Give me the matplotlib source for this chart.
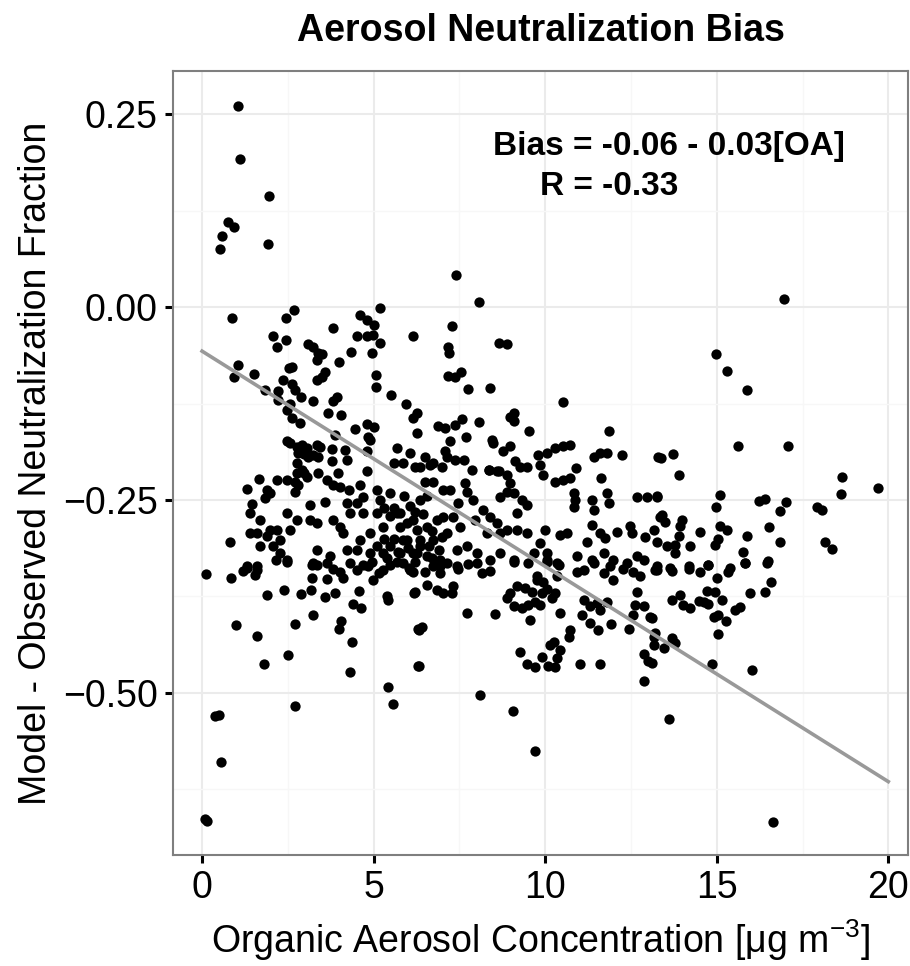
import matplotlib
matplotlib.use("Agg")
import matplotlib.pyplot as plt
import numpy as np

plt.rcParams["font.family"] = ["Liberation Sans", "DejaVu Sans"]
plt.rcParams["mathtext.fontset"] = "custom"
plt.rcParams["mathtext.rm"] = "Liberation Sans"
plt.rcParams["mathtext.it"] = "Liberation Sans:italic"

# organic aerosol concentration [ug m-3] and neutralization bias
oa = [
    1.06, 1.11, 1.96, 0.77, 0.94, 0.59, 0.51, 1.91, 0.86, 2.44, 2.69, 4.60, 4.80, 5.01, 5.18, 3.83,
    2.08, 2.18, 2.45, 3.08, 3.24, 3.39, 3.49, 3.34, 4.51, 4.80, 4.99, 5.19, 4.95, 4.34, 3.99, 6.16,
    1.04, 0.94, 1.50, 1.82, 2.52, 2.61, 2.37, 2.61, 2.71, 2.89, 2.22, 2.22, 2.47, 2.57, 2.61, 2.84,
    3.59, 3.34, 3.49, 3.93, 3.83, 3.24, 3.66, 4.05, 5.06, 5.08, 5.51, 5.94, 6.16, 6.26, 6.26,
    4.46, 4.80, 5.01, 4.85, 4.88, 3.88,
    2.47, 2.57, 2.76, 2.91, 3.05, 3.34, 3.44, 2.81, 2.96, 3.10, 3.24, 3.39, 3.78, 4.17,
    3.78, 4.22, 4.80,
    2.76, 2.91, 2.76, 2.96, 3.05, 2.71, 2.81, 2.71, 3.39, 3.64, 3.83, 4.03, 4.27, 3.97, 4.80,
    1.67, 1.32, 2.18, 2.47, 1.89, 1.98, 1.84,
    4.61, 4.70, 5.09, 5.19, 5.48, 5.68, 5.58, 5.87, 6.06, 6.21,
    1.45, 1.40, 1.69, 1.59, 1.40, 1.98, 1.89, 2.18, 2.27, 2.08, 1.69, 0.80, 2.47, 2.76, 2.57, 3.15,
    3.59, 3.15, 3.34, 3.83, 4.03, 4.12, 4.22, 4.51, 4.32, 4.70, 5.09, 4.90, 5.28, 5.48, 5.68, 5.77,
    6.06, 6.16, 5.87, 5.48, 5.28, 4.90, 4.61, 4.51, 4.22, 3.73, 3.34, 3.24, 3.64, 2.47, 2.27, 1.30,
    1.59, 5.87, 6.26,
    0.11, 0.84, 1.20, 1.30, 1.59, 1.55, 2.16, 2.49, 3.20, 3.34, 3.83, 4.03, 4.12, 3.64, 3.20, 4.31,
    4.51, 4.70, 4.95, 5.28, 5.48, 5.68, 6.02, 6.16, 4.99,
    1.90, 2.39, 2.89, 3.18, 3.57, 3.87, 4.58, 4.41, 4.63, 5.39, 5.43, 6.19, 3.23, 4.04, 4.00, 4.38,
    4.32, 2.72, 2.51, 1.80, 0.98, 1.60, 6.28, 6.28,
    5.42, 5.56, 2.70, 0.38, 0.48, 0.55, 0.09, 0.15,
    7.41, 8.06, 7.28, 16.97,
    7.18, 7.21, 8.64, 8.88, 7.18, 7.38, 7.55, 7.76, 8.38, 10.52,
    6.89, 7.08, 7.38, 7.57, 8.06, 7.69, 8.98, 9.08, 9.08, 9.53, 11.87, 12.24, 13.30,
    7.23, 7.08, 7.13, 7.38, 7.62, 6.99, 6.74, 6.50, 6.65, 6.36,
    8.45, 8.49, 8.78, 8.98, 9.13, 9.27, 9.47, 8.35, 8.64,
    9.80, 10.05, 10.29, 10.53, 10.71, 9.85, 9.95, 10.90, 10.29, 10.53, 10.73,
    11.41, 11.60, 11.80, 11.63,
    7.86, 7.67, 7.72, 6.50, 6.74, 7.03, 7.23, 7.47, 7.91,
    8.35, 8.59, 8.88, 8.98, 8.88, 8.69, 9.08, 9.32, 9.47, 9.18,
    10.83, 10.87, 10.83, 11.36, 11.41, 11.80, 11.85, 12.67, 12.96, 13.26, 13.35,
    5.77, 6.36, 6.55, 5.97, 6.26, 6.55, 6.84, 7.03, 7.32, 7.52, 7.13, 6.74, 6.36, 5.97, 5.77, 6.16,
    6.55, 6.94, 7.43, 7.72, 8.01, 8.30, 8.59, 8.69, 8.20, 7.96, 8.40, 8.88, 9.18, 9.47, 9.85, 10.05,
    9.66, 9.08, 8.69, 8.40, 8.01, 7.43, 6.94,
    10.00, 10.44, 10.63, 11.22, 11.36, 11.60, 11.75, 12.09, 12.48, 12.53, 12.91, 13.16, 10.92, 11.36,
    11.70, 11.99, 12.38, 12.67, 12.87, 10.34, 10.05,
    6.06, 6.50, 6.74, 6.94, 7.13, 7.47, 7.76, 8.15, 8.40, 6.55, 6.84, 7.03, 7.32, 7.28, 6.21, 6.41,
    6.31, 6.31, 7.72, 8.54, 8.10, 9.06, 9.71,
    8.98, 9.18, 9.42, 9.62, 9.77, 9.95, 10.05, 9.90, 10.29, 10.19, 8.88, 9.08, 9.32, 9.51, 9.71, 9.85,
    9.56, 10.42, 9.27, 9.47, 9.71, 9.90, 10.15, 10.25, 10.44, 10.34, 10.09, 10.29,
    9.08, 9.51, 10.05, 10.39, 10.34, 9.77,
    10.92, 11.12, 11.41, 11.70, 11.89, 11.99, 12.28, 12.57, 12.77, 13.21, 11.12, 11.31, 11.51, 11.60,
    11.80, 11.06, 11.31, 11.55, 10.73, 10.68, 11.02, 11.60, 11.92, 12.43, 12.57, 12.67, 12.87, 13.06,
    12.62, 13.16, 12.87, 13.01, 12.87,
    14.99, 15.31, 15.88, 15.61, 17.08, 13.38, 13.74, 13.89, 18.66, 18.62, 19.69,
    13.26, 15.10, 14.98, 16.22, 16.41, 17.03, 16.85, 17.92, 18.07,
    13.40, 13.50, 13.99, 13.94, 14.52, 15.10, 15.30, 15.05, 14.96, 15.88, 16.51, 16.85, 18.16, 18.36,
    13.26, 13.55, 13.79, 13.89, 13.79, 14.21, 15.78, 15.83, 16.48, 15.39, 14.76, 14.18, 13.65, 13.26,
    13.26, 13.69, 14.18, 14.50, 14.76, 15.34, 15.00, 15.81, 16.46, 16.59, 16.41, 15.98, 13.69, 13.94,
    14.03, 14.21, 14.47, 14.62, 14.76, 14.71, 14.96, 15.15, 14.91, 15.05, 15.28, 15.54, 15.69, 15.05,
    13.11, 13.21, 13.16, 13.45, 13.69, 13.79, 13.11, 14.86, 16.04, 13.60, 16.64,
    # dense core around 5-7 ug m-3
    5.90, 6.20, 6.45, 6.70, 6.00, 6.35, 6.60, 6.90, 7.00, 6.20, 6.70,
    5.30, 5.60, 5.70, 5.10, 5.40, 5.60, 5.30, 4.85, 5.15,
]
bias = [
    0.261, 0.192, 0.144, 0.111, 0.104, 0.092, 0.076, 0.082, -0.014, -0.014, -0.004, -0.010, -0.016, -0.023, -0.001, -0.027,
    -0.037, -0.051, -0.043, -0.048, -0.051, -0.060, -0.061, -0.068, -0.037, -0.038, -0.036, -0.047, -0.059, -0.058, -0.071, -0.037,
    -0.075, -0.091, -0.087, -0.107, -0.079, -0.077, -0.094, -0.099, -0.107, -0.116, -0.109, -0.120, -0.133, -0.125, -0.144, -0.150,
    -0.084, -0.094, -0.091, -0.116, -0.122, -0.122, -0.137, -0.140, -0.088, -0.104, -0.114, -0.126, -0.144, -0.137, -0.163,
    -0.158, -0.151, -0.155, -0.168, -0.172, -0.166,
    -0.174, -0.176, -0.181, -0.179, -0.183, -0.179, -0.181, -0.189, -0.190, -0.194, -0.192, -0.194, -0.184, -0.185,
    -0.200, -0.198, -0.187,
    -0.202, -0.211, -0.215, -0.215, -0.220, -0.226, -0.230, -0.239, -0.215, -0.224, -0.230, -0.233, -0.237, -0.215, -0.213,
    -0.223, -0.236, -0.224, -0.224, -0.237, -0.241, -0.248,
    -0.230, -0.246, -0.237, -0.250, -0.241, -0.183, -0.202, -0.202, -0.189, -0.207,
    -0.255, -0.267, -0.276, -0.293, -0.293, -0.289, -0.297, -0.289, -0.302, -0.310, -0.310, -0.305, -0.267, -0.276, -0.289, -0.257,
    -0.253, -0.276, -0.280, -0.276, -0.285, -0.293, -0.254, -0.254, -0.267, -0.267, -0.267, -0.293, -0.285, -0.271, -0.267, -0.285,
    -0.258, -0.276, -0.302, -0.310, -0.319, -0.319, -0.302, -0.315, -0.315, -0.323, -0.315, -0.332, -0.332, -0.328, -0.319, -0.336,
    -0.336, -0.332, -0.319,
    -0.346, -0.351, -0.342, -0.338, -0.341, -0.347, -0.328, -0.330, -0.334, -0.334, -0.340, -0.343, -0.351, -0.353, -0.351, -0.332,
    -0.341, -0.334, -0.330, -0.341, -0.334, -0.330, -0.338, -0.343, -0.354,
    -0.373, -0.367, -0.372, -0.366, -0.376, -0.371, -0.368, -0.385, -0.390, -0.375, -0.380, -0.370, -0.399, -0.407, -0.417, -0.434,
    -0.473, -0.411, -0.451, -0.463, -0.412, -0.426, -0.417, -0.465,
    -0.492, -0.514, -0.517, -0.530, -0.529, -0.590, -0.663, -0.666,
    0.042, 0.007, -0.025, 0.010,
    -0.051, -0.060, -0.046, -0.048, -0.089, -0.091, -0.084, -0.106, -0.105, -0.123,
    -0.154, -0.157, -0.153, -0.145, -0.149, -0.168, -0.142, -0.137, -0.148, -0.160, -0.160, -0.192, -0.194,
    -0.174, -0.187, -0.194, -0.198, -0.198, -0.207, -0.202, -0.194, -0.204, -0.207,
    -0.172, -0.176, -0.187, -0.180, -0.200, -0.207, -0.207, -0.211, -0.213,
    -0.192, -0.189, -0.183, -0.180, -0.179, -0.204, -0.217, -0.208, -0.227, -0.224, -0.222,
    -0.194, -0.189, -0.189, -0.221,
    -0.211, -0.228, -0.239, -0.226, -0.226, -0.237, -0.237, -0.254, -0.250,
    -0.211, -0.213, -0.217, -0.228, -0.239, -0.246, -0.241, -0.250, -0.256, -0.267,
    -0.241, -0.250, -0.259, -0.250, -0.263, -0.241, -0.254, -0.246, -0.246, -0.246, -0.272,
    -0.267, -0.250, -0.245, -0.280, -0.289, -0.285, -0.276, -0.272, -0.272, -0.285, -0.293, -0.302, -0.302, -0.302, -0.319, -0.319,
    -0.323, -0.328, -0.315, -0.310, -0.319, -0.293, -0.280, -0.293, -0.263, -0.276, -0.272, -0.289, -0.289, -0.293, -0.306, -0.319,
    -0.319, -0.328, -0.319, -0.328, -0.332, -0.336, -0.336,
    -0.289, -0.295, -0.293, -0.304, -0.282, -0.293, -0.299, -0.291, -0.284, -0.293, -0.298, -0.289, -0.323, -0.328,
    -0.319, -0.328, -0.332, -0.323, -0.328, -0.332, -0.328,
    -0.341, -0.343, -0.336, -0.345, -0.332, -0.339, -0.333, -0.345, -0.342, -0.360, -0.367, -0.371, -0.362, -0.371, -0.369, -0.414,
    -0.419, -0.465, -0.397, -0.398, -0.503, -0.523, -0.575,
    -0.371, -0.362, -0.364, -0.369, -0.354, -0.356, -0.365, -0.371, -0.371, -0.377, -0.377, -0.388, -0.390, -0.386, -0.382, -0.386,
    -0.406, -0.396, -0.447, -0.463, -0.466, -0.453, -0.438, -0.434, -0.444, -0.455, -0.465, -0.467,
    -0.330, -0.332, -0.330, -0.334, -0.349, -0.349,
    -0.343, -0.341, -0.332, -0.345, -0.336, -0.354, -0.339, -0.343, -0.349, -0.341, -0.380, -0.388, -0.384, -0.393,
    -0.382, -0.399, -0.410, -0.419, -0.419, -0.428, -0.462, -0.462, -0.411, -0.417, -0.399, -0.369, -0.388, -0.401,
    -0.386, -0.427, -0.449, -0.459, -0.484,
    -0.061, -0.083, -0.108, -0.180, -0.180, -0.195, -0.190, -0.218, -0.220, -0.242, -0.235,
    -0.245, -0.243, -0.259, -0.251, -0.249, -0.252, -0.264, -0.259, -0.263,
    -0.269, -0.279, -0.276, -0.284, -0.292, -0.284, -0.289, -0.301, -0.308, -0.297, -0.285, -0.304, -0.304, -0.314,
    -0.304, -0.310, -0.308, -0.297, -0.319, -0.309, -0.317, -0.332, -0.329, -0.338, -0.334, -0.336, -0.338, -0.336,
    -0.341, -0.342, -0.339, -0.343, -0.334, -0.343, -0.351, -0.331, -0.331, -0.356, -0.369, -0.370, -0.379, -0.373,
    -0.386, -0.390, -0.381, -0.382, -0.385, -0.368, -0.369, -0.379, -0.402, -0.399, -0.407, -0.393, -0.389, -0.424,
    -0.403, -0.423, -0.438, -0.442, -0.429, -0.435, -0.461, -0.463, -0.470, -0.534, -0.667,
    -0.245, -0.265, -0.268, -0.290, -0.312, -0.310, -0.310, -0.315, -0.298, -0.330, -0.325,
    -0.300, -0.300, -0.318, -0.310, -0.325, -0.260, -0.260, -0.335, -0.345,
]

# fitted line: Bias = a + b * OA
fit_intercept = -0.057
fit_slope = -0.0279
fit_range = [0, 20]

fig = plt.figure(figsize=(9.1, 9.66), dpi=100)
ax = fig.add_axes([0.190, 0.115, 0.808, 0.811])

ax.scatter(oa, bias, s=55, color="black", linewidths=0, zorder=3)
fx = np.array(fit_range)
ax.plot(fx, fit_intercept + fit_slope * fx, color="#999999", lw=2.6, zorder=4)

ax.set_xlim(-0.85, 20.58)
ax.set_ylim(-0.710, 0.3055)
ax.set_xticks([0, 5, 10, 15, 20])
ax.set_xticks([2.5, 7.5, 12.5, 17.5], minor=True)
ax.set_yticks([-0.5, -0.25, 0.0, 0.25])
ax.set_yticks([-0.625, -0.375, -0.125, 0.125], minor=True)
ax.set_yticklabels(["\u22120.50", "\u22120.25", "0.00", "0.25"])

ax.grid(True, which="major", color="#ebebeb", lw=1.5, zorder=0)
ax.grid(True, which="minor", color="#f7f7f7", lw=1.0, zorder=0)
ax.set_axisbelow(True)
for sp in ax.spines.values():
    sp.set_color("#7f7f7f")
    sp.set_linewidth(1.5)
ax.tick_params(which="major", length=6, width=2.2, color="black", labelsize=27, pad=5)
ax.tick_params(which="minor", length=0)

ax.set_xlabel(r"Organic Aerosol Concentration [μg m$^{-3}$]", fontsize=27, labelpad=8)
ax.set_ylabel("Model - Observed Neutralization Fraction", fontsize=27, labelpad=6)
ax.set_title("Aerosol Neutralization Bias", fontsize=27, fontweight="bold", pad=22)

ax.text(13.6, 0.208, "Bias = -0.06 - 0.03[OA]", fontsize=24, fontweight="bold", ha="center", va="center")
ax.text(11.87, 0.157, "R = -0.33", fontsize=24, fontweight="bold", ha="center", va="center")

fig.savefig("out.png", dpi=100)
